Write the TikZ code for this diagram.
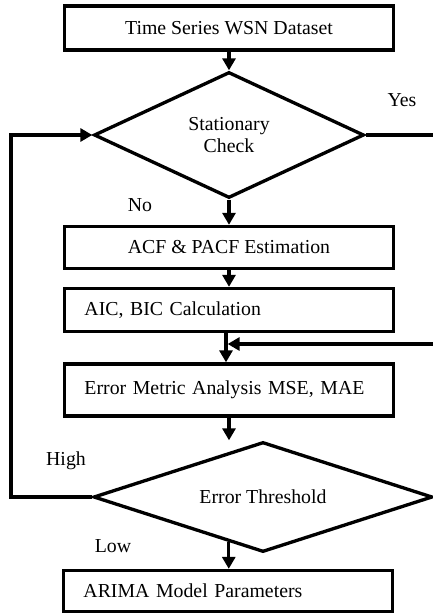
\documentclass[tikz,border=0pt]{standalone}
\usepackage{fontspec}
\setmainfont{Liberation Serif}
\usetikzlibrary{shapes.geometric,arrows.meta,calc}
\begin{document}
\begin{tikzpicture}[x=0.03cm,y=-0.03cm,line width=0.1cm,
  font=\fontsize{16.9}{18.8}\selectfont,
  stepbox/.style={draw,minimum width=9.87cm,inner sep=0pt},
  leftbox/.style={stepbox,text width=8.67cm,align=left},
  decision/.style={draw,diamond,aspect=2,inner sep=0pt,align=center},
  arr/.style={-{Triangle[width=0.39cm,length=0.36cm]}}]
\useasboundingbox (0,0) rectangle (433,616);
\node[stepbox,minimum height=1.32cm] (data) at (229,28) {Time Series WSN Dataset};
\node[decision,minimum width=8.1cm,minimum height=3.78cm] (stat) at (229,135) {\rule{0pt}{10pt}Stationary\\Check};
\node[stepbox,minimum height=1.26cm] (acf) at (229,247.5) {ACF \& PACF Estimation};
\node[leftbox,minimum height=1.29cm] (aic) at (229,310) {AIC, BIC Calculation};
\node[leftbox,minimum height=1.56cm] (err) at (229,390) {Error Metric Analysis MSE, MAE};
\node[decision,minimum width=10.17cm,minimum height=3.3cm] (thr) at (263,497) {Error Threshold};
\node[leftbox,minimum height=1.23cm] (arima) at (228,591) {ARIMA Model Parameters};
\node (yes) at (402,100) {Yes};
\node (no) at (140,205) {No};
\node (high) at (66,461) {High};
\node (low) at (113,546) {Low};
\coordinate (yesend) at (433,135);
\coordinate (retend) at (433,344);
\coordinate (merge) at (226,344);
\coordinate (loop) at (11,497);
\coordinate (lowout) at ($(thr.west)!0.8!(thr.south)$);
\draw[arr] (data) -- (stat);
\draw[arr] (stat) -- (acf);
\draw[arr] (acf) -- (aic);
\draw (stat.east) -- (yesend);
\draw[arr] (aic.south -| merge) -- (err.north -| merge);
\draw[arr,shorten >=1.4pt] (retend) -- (merge);
\draw[arr] (err) -- (err.south |- thr.north);
\draw[arr] (lowout) -- (lowout |- arima.north);
\draw[arr] (thr.west) -- (loop) |- (stat.west);
\end{tikzpicture}
\end{document}
